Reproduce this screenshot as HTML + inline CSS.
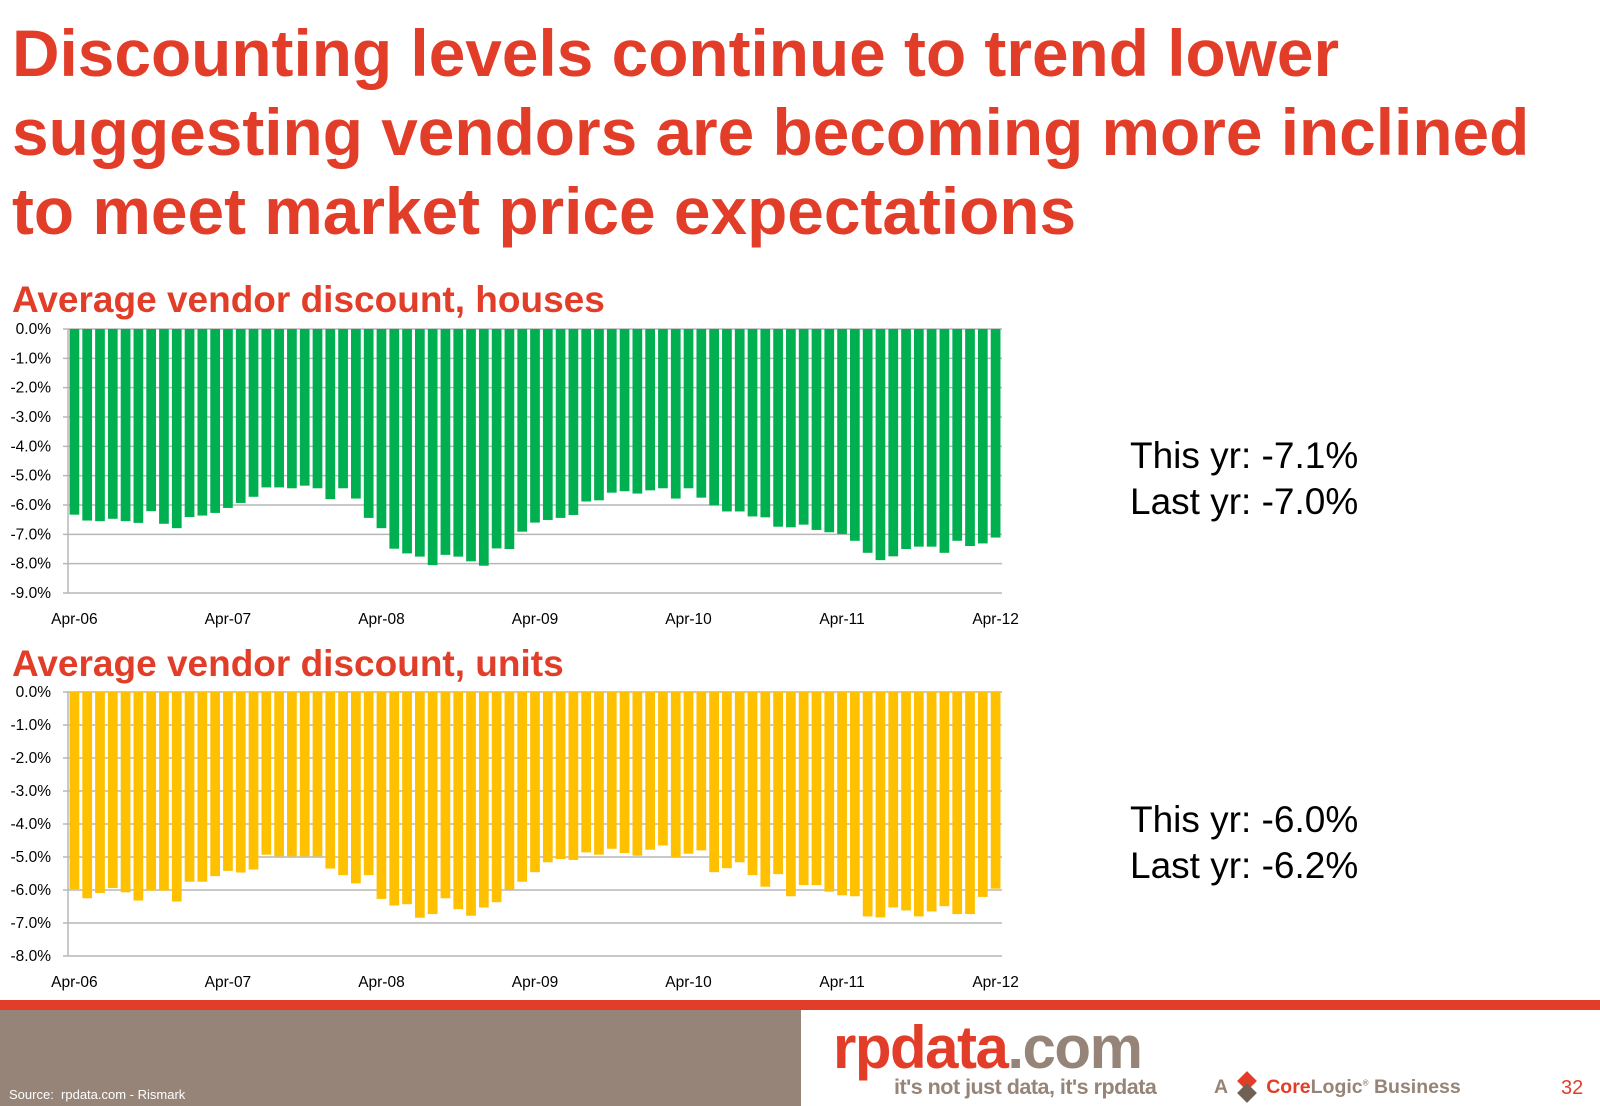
<!DOCTYPE html>
<html><head><meta charset="utf-8"><style>
html,body{margin:0;padding:0;background:#fff;}
body{width:1600px;height:1106px;position:relative;overflow:hidden;font-family:"Liberation Sans",Arial,sans-serif;}
.t{position:absolute;white-space:nowrap;}
</style></head><body>
<div class="t" style="left:12px;top:14px;font-size:65.8px;font-weight:bold;color:#e23d28;line-height:79px;">Discounting levels continue to trend lower<br>suggesting vendors are becoming more inclined<br>to meet market price expectations</div>
<div class="t" style="left:12px;top:279px;font-size:37px;font-weight:bold;color:#e23d28;">Average vendor discount, houses</div>
<div class="t" style="left:12px;top:643px;font-size:37px;font-weight:bold;color:#e23d28;">Average vendor discount, units</div>
<div class="t" style="left:1130px;top:433px;font-size:37px;line-height:46px;color:#000;">This yr: -7.1%<br>Last yr: -7.0%</div>
<div class="t" style="left:1130px;top:797px;font-size:37px;line-height:46px;color:#000;">This yr: -6.0%<br>Last yr: -6.2%</div>
<svg id="chart" width="1600" height="1000" style="position:absolute;left:0;top:0;" xmlns="http://www.w3.org/2000/svg"></svg>
<div style="position:absolute;left:0;top:1000px;width:1600px;height:10px;background:#e23d28;"></div>
<div style="position:absolute;left:0;top:1010px;width:801px;height:96px;background:#958477;"></div>
<div class="t" style="left:9px;top:1087px;font-size:13px;color:#fff;">Source:&nbsp; rpdata.com - Rismark</div>
<div class="t" style="left:833px;top:1013px;font-size:60px;font-weight:bold;letter-spacing:-1.5px;color:#e23d28;"><span>rpdata</span><span style="color:#958477;">.com</span></div>
<div class="t" style="left:894px;top:1075px;font-size:21.5px;font-weight:bold;letter-spacing:-0.5px;color:#958477;">it's not just data, it's rpdata</div>
<div class="t" style="left:1214px;top:1076px;font-size:19.5px;font-weight:bold;color:#958477;">A <span style="display:inline-block;width:28px;height:20px;vertical-align:middle;position:relative;"><span style="position:absolute;left:7px;top:-4px;width:14px;height:14px;background:#e23d28;transform:rotate(45deg);"></span><span style="position:absolute;left:7px;top:8px;width:14px;height:14px;background:#6f6255;transform:rotate(45deg);"></span></span> <span style="color:#e23d28;">Core</span>Logic<sup style="font-size:8px;">®</sup> Business</div>
<div class="t" style="left:1561px;top:1077px;font-size:20px;color:#e23d28;">32</div>
<script>
const categories = [];
const months = ["Apr","May","Jun","Jul","Aug","Sep","Oct","Nov","Dec","Jan","Feb","Mar"];
for (let i = 0; i < 73; i++) { const y = 6 + Math.floor((i + 3) / 12); categories.push(months[i % 12] + "-" + String(y).padStart(2, "0")); }
const houseValues = [-6.33,-6.53,-6.55,-6.47,-6.55,-6.61,-6.21,-6.64,-6.79,-6.41,-6.36,-6.27,-6.10,-5.93,-5.72,-5.40,-5.40,-5.43,-5.34,-5.43,-5.80,-5.43,-5.78,-6.44,-6.79,-7.49,-7.65,-7.76,-8.05,-7.70,-7.76,-7.92,-8.07,-7.48,-7.50,-6.91,-6.60,-6.51,-6.44,-6.34,-5.88,-5.84,-5.58,-5.53,-5.61,-5.50,-5.43,-5.78,-5.43,-5.75,-6.01,-6.22,-6.22,-6.39,-6.42,-6.74,-6.76,-6.67,-6.85,-6.93,-6.99,-7.22,-7.63,-7.88,-7.75,-7.50,-7.42,-7.42,-7.63,-7.22,-7.40,-7.31,-7.11];
const unitValues = [-5.97,-6.25,-6.09,-5.94,-6.07,-6.32,-6.02,-6.02,-6.35,-5.75,-5.75,-5.58,-5.42,-5.47,-5.38,-4.93,-4.98,-4.98,-4.98,-4.98,-5.35,-5.55,-5.80,-5.55,-6.27,-6.47,-6.43,-6.84,-6.73,-6.25,-6.58,-6.78,-6.53,-6.37,-5.99,-5.75,-5.46,-5.16,-5.06,-5.09,-4.86,-4.93,-4.75,-4.88,-4.96,-4.78,-4.65,-5.00,-4.90,-4.80,-5.46,-5.34,-5.16,-5.55,-5.90,-5.52,-6.19,-5.85,-5.85,-6.05,-6.16,-6.19,-6.80,-6.83,-6.53,-6.62,-6.80,-6.65,-6.49,-6.73,-6.73,-6.21,-5.96];
const houseTicks = [0,-1,-2,-3,-4,-5,-6,-7,-8,-9];
const unitTicks = [0,-1,-2,-3,-4,-5,-6,-7,-8];
const xLabelIdx = [0,12,24,36,48,60,72];

const NS = "http://www.w3.org/2000/svg";
const svg = document.getElementById("chart");
function mk(tag, attrs, parent) { const e = document.createElementNS(NS, tag); for (const k in attrs) e.setAttribute(k, attrs[k]); (parent || svg).appendChild(e); return e; }

function drawChart(name, values, ticks, color, top, bottom) {
  const g = mk("g", {});
  
  
  const left = 68, right = 1002;
  const minV = ticks[ticks.length - 1];
  const yS = v => top + (v / minV) * (bottom - top);
  const slot = (right - left) / values.length;
  const xS = i => left + slot * (i + 0.5);
  ticks.forEach(t => {
    const y = yS(t);
    const ln = mk("line", {x1: left - 5, x2: right, y1: y, y2: y, stroke: "#b7b7b7", "stroke-width": 1.5}, g);
    
    
    const tx = mk("text", {x: 51, y: y + 5, "text-anchor": "end", "font-size": 15.5, "font-family": "Liberation Sans, sans-serif", fill: "#000"}, g);
    tx.textContent = t.toFixed(1) + "%";
    
    
  });
  const ax = mk("line", {x1: left, x2: left, y1: top, y2: bottom, stroke: "#b7b7b7", "stroke-width": 1.5}, g);
  
  
  values.forEach((v, i) => {
    const bw = slot * 0.76;
    const r = mk("rect", {x: xS(i) - bw / 2, y: yS(0), width: bw, height: yS(v) - yS(0), fill: color}, g);
    
    
  });
  xLabelIdx.forEach(i => {
    const tx = mk("text", {x: xS(i), y: bottom + 31, "text-anchor": "middle", "font-size": 15.5, "font-family": "Liberation Sans, sans-serif", fill: "#000"}, g);
    tx.textContent = categories[i];
    
    
  });
}
drawChart("houses-chart", houseValues, houseTicks, "#00b050", 329, 593);
drawChart("units-chart", unitValues, unitTicks, "#ffc000", 692, 956);
</script>
</body></html>
